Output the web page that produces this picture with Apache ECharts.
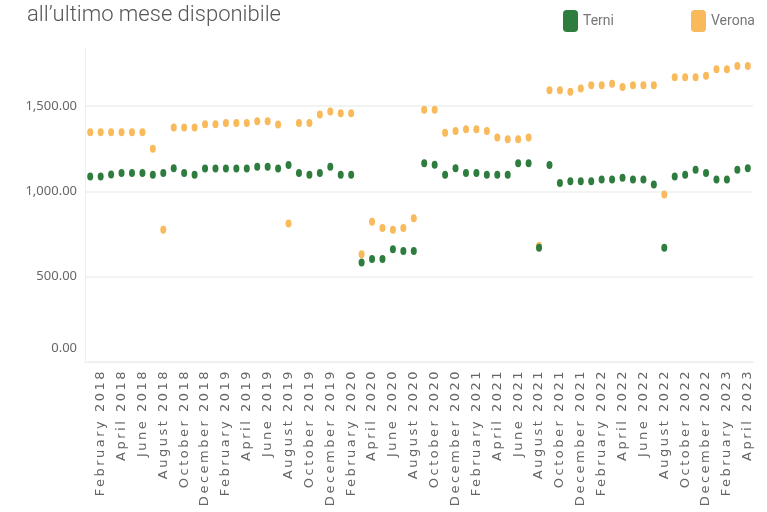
<!DOCTYPE html>
<html>
<head>
<meta charset="utf-8">
<script src="https://cdn.jsdelivr.net/npm/echarts@6/dist/echarts.min.js"></script>
<style>
  html, body { margin: 0; padding: 0; background: #fff; }
  #main { width: 767px; height: 512px; }
</style>
</head>
<body>
<div id="main"></div>
<script>
var months = [
  'January 2018', 'February 2018', 'March 2018', 'April 2018', 'May 2018', 'June 2018',
  'July 2018', 'August 2018', 'September 2018', 'October 2018', 'November 2018', 'December 2018',
  'January 2019', 'February 2019', 'March 2019', 'April 2019', 'May 2019', 'June 2019',
  'July 2019', 'August 2019', 'September 2019', 'October 2019', 'November 2019', 'December 2019',
  'January 2020', 'February 2020', 'March 2020', 'April 2020', 'May 2020', 'June 2020',
  'July 2020', 'August 2020', 'September 2020', 'October 2020', 'November 2020', 'December 2020',
  'January 2021', 'February 2021', 'March 2021', 'April 2021', 'May 2021', 'June 2021',
  'July 2021', 'August 2021', 'September 2021', 'October 2021', 'November 2021', 'December 2021',
  'January 2022', 'February 2022', 'March 2022', 'April 2022', 'May 2022', 'June 2022',
  'July 2022', 'August 2022', 'September 2022', 'October 2022', 'November 2022', 'December 2022',
  'January 2023', 'February 2023', 'March 2023', 'April 2023'
]

var verona = [
  1346, 1346, 1346, 1346, 1346, 1346, 1249, 775, 1374, 1374, 1374, 1393,
  1393, 1401, 1401, 1401, 1411, 1411, 1391, 812, 1401, 1401, 1451, 1468,
  1458, 1458, 631, 822, 785, 775, 785, 842, 1478, 1478, 1344, 1354,
  1364, 1364, 1354, 1316, 1306, 1306, 1316, 680, 1593, 1593, 1583, 1603,
  1621, 1621, 1630, 1611, 1621, 1621, 1621, 982, 1668, 1668, 1668, 1678,
  1715, 1715, 1735, 1735
]

var terni = [
  1087, 1087, 1099, 1107, 1107, 1107, 1097, 1107, 1136, 1107, 1097, 1134,
  1134, 1134, 1134, 1134, 1144, 1144, 1134, 1154, 1107, 1097, 1107, 1144,
  1097, 1097, 583, 603, 603, 660, 650, 650, 1164, 1156, 1097, 1136,
  1107, 1107, 1097, 1097, 1097, 1164, 1164, 670, 1154, 1049, 1059, 1059,
  1059, 1069, 1069, 1079, 1069, 1069, 1040, 670, 1087, 1097, 1127, 1107,
  1069, 1069, 1127, 1136
]

var green = '#2e7d3f'
var orange = '#f8ba5a'

// the month labels are letter-spaced in the original, canvas can do that
var origFill = CanvasRenderingContext2D.prototype.fillText
CanvasRenderingContext2D.prototype.fillText = function (t, x, y, w) {
  var spaced = months.indexOf(t) >= 0 && 'letterSpacing' in this
  var f = this.font
  this.letterSpacing = spaced ? '2.5px' : '0px'
  this.font = f
  return w === undefined ? origFill.call(this, t, x, y) : origFill.call(this, t, x, y, w)
}

var chart = echarts.init(document.getElementById('main'))

function fmt(v) {
  var s = v.toLocaleString('en-US', { minimumFractionDigits: 2, maximumFractionDigits: 2 })
  // tableau lifts the bottom label off the axis
  return v === 0 ? '{z|' + s + '}' : s
}

var legendText = { fontFamily: 'Roboto', fontSize: 14, color: '#777' }

chart.setOption({
  animation: false,
  title: {
    text: 'all\u2019ultimo mese disponibile',
    left: 27,
    top: 4,
    padding: 0,
    textStyle: { fontFamily: 'Roboto', fontWeight: 300, fontSize: 22, color: '#555' }
  },
  legend: [{
    data: ['Terni'],
    left: 563,
    top: 10,
    padding: 0,
    icon: 'roundRect',
    itemWidth: 15,
    itemHeight: 22,
    textStyle: legendText
  }, {
    data: ['Verona'],
    left: 691,
    top: 10,
    padding: 0,
    icon: 'roundRect',
    itemWidth: 15,
    itemHeight: 22,
    textStyle: legendText
  }],
  grid: { left: 85, right: 14, top: 48, bottom: 150 },
  xAxis: {
    type: 'category',
    data: months,
    boundaryGap: true,
    axisLine: { lineStyle: { color: '#eeeeee' } },
    axisTick: { show: false },
    axisLabel: {
      rotate: 90,
      interval: function (i) { return i % 2 === 1 },
      margin: 7,
      fontFamily: 'DejaVu Sans',
      fontSize: 13,
      color: '#666'
    }
  },
  yAxis: {
    type: 'value',
    min: 0,
    max: 1840,
    interval: 500,
    axisLine: { show: true, lineStyle: { color: '#eeeeee' } },
    axisTick: { show: false },
    splitLine: { showMaxLine: false, lineStyle: { color: '#efefef', width: 1.5 } },
    axisLabel: {
      showMaxLabel: false,
      formatter: fmt,
      margin: 8,
      fontFamily: 'Noto Sans',
      fontSize: 13,
      color: '#666',
      rich: { z: { fontFamily: 'Noto Sans', fontSize: 13, color: '#666', padding: [0, 0, 28, 0] } }
    }
  },
  series: [{
    name: 'Verona',
    type: 'scatter',
    data: verona,
    symbol: 'circle',
    symbolSize: [6, 8],
    itemStyle: { color: orange, opacity: 1 }
  }, {
    name: 'Terni',
    type: 'scatter',
    data: terni,
    symbol: 'circle',
    symbolSize: [6, 8],
    itemStyle: { color: green, opacity: 1 }
  }]
})
</script>
</body>
</html>
